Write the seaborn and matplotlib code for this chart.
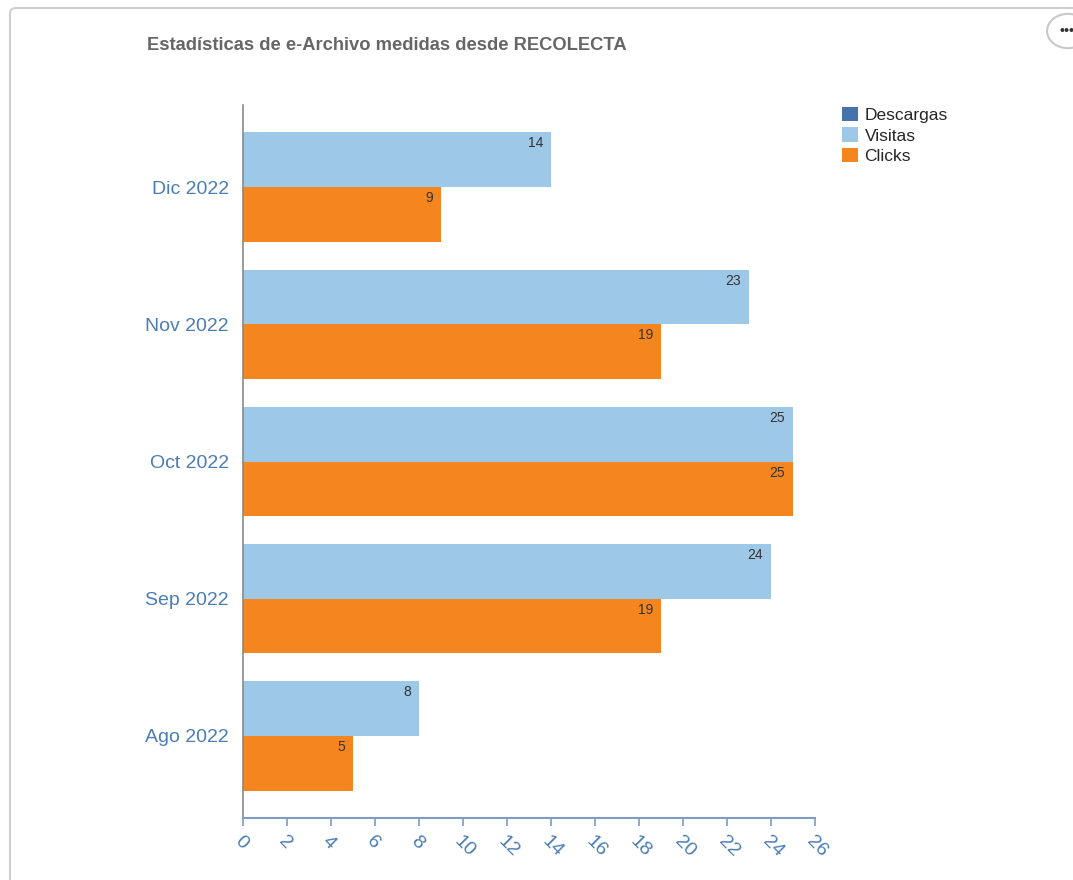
import matplotlib
matplotlib.use("Agg")
import matplotlib.pyplot as plt
import seaborn as sns
import pandas as pd
from matplotlib.patches import FancyBboxPatch, Patch, Circle

months = ["Dic 2022", "Nov 2022", "Oct 2022", "Sep 2022", "Ago 2022"]
visitas = [14, 23, 25, 24, 8]
clicks = [9, 19, 25, 19, 5]
series_names = ["Descargas", "Visitas", "Clicks"]
series_colors = ["#4673AB", "#9DC8E8", "#F5861F"]
xticks = list(range(0, 27, 2))
title = "Estadísticas de e-Archivo medidas desde RECOLECTA"

df = pd.DataFrame({
    "mes": months * 2,
    "serie": ["Visitas"] * len(months) + ["Clicks"] * len(months),
    "valor": visitas + clicks,
})

sns.set_theme(style="white")
plt.rcParams["font.family"] = ["Liberation Sans", "DejaVu Sans"]

fig = plt.figure(figsize=(10.73, 8.8), dpi=100)
# outer frame
frame = FancyBboxPatch((10 / 1073, -0.1), 1.2, 1 - 8 / 880 + 0.1, transform=fig.transFigure,
                       boxstyle="round,pad=0,rounding_size=0.006", fc="none",
                       ec="#cfcfcf", lw=1.5, zorder=-1)
fig.patches.append(frame)

ax = fig.add_axes([243 / 1073, 1 - 818 / 880, (815 - 243) / 1073, (818 - 105) / 880])
ax.set_facecolor("none")
ax.set_zorder(2)

sns.barplot(data=df, y="mes", x="valor", hue="serie", order=months,
            hue_order=["Visitas", "Clicks"], palette=series_colors[1:],
            orient="h", width=0.8, ax=ax, legend=False, saturation=1,
            linewidth=0, edgecolor="none")

for cont in ax.containers:
    for p in cont:
        ax.annotate(f"{int(round(p.get_width()))}", xy=(p.get_width(), p.get_y()),
                    xytext=(-8, -4), textcoords="offset pixels", ha="right", va="top",
                    fontsize=10, color="#333333")

ax.set_xlim(0, 26)
ax.set_ylim(4.6, -0.6)
ax.set_xticks(xticks)
ax.set_xticklabels([str(t) for t in xticks], rotation=-45, ha="left", va="top",
                   rotation_mode="anchor", fontsize=14, color="#4A7DB5")
ax.tick_params(axis="x", direction="out", length=6, width=1.2, color="#7E9CC0", pad=5,
               bottom=True)
ax.tick_params(axis="y", length=0, pad=10, labelsize=14, labelcolor="#4A7DB5")
for lab in ax.get_yticklabels():
    lab.set_color("#4A7DB5")
ax.set_xlabel("")
ax.set_ylabel("")
for s in ["top", "right"]:
    ax.spines[s].set_visible(False)
ax.spines["left"].set_color("#8a8a8a")
ax.spines["left"].set_linewidth(1.2)
ax.spines["bottom"].set_color("#7E9CC0")
ax.spines["bottom"].set_linewidth(1.5)
ax.grid(False)

fig.text(147 / 1073, 1 - 46 / 880, title, fontsize=13.2, color="#666666",
         fontweight="bold", ha="left", va="center")

handles = [Patch(facecolor=c, edgecolor="none", label=n)
           for n, c in zip(series_names, series_colors)]
fig.legend(handles=handles, loc="upper left", bbox_to_anchor=(835 / 1073, 1 - 100 / 880),
           frameon=False, fontsize=12.5, handlelength=0.9, handleheight=0.9,
           handletextpad=0.4, labelspacing=0.25, borderaxespad=0)

# menu button
btn = Circle((1068 / 1073, 1 - 31 / 880), 0.0195, transform=fig.transFigure,
             fc="white", ec="#c8c8c8", lw=1.5)
fig.patches.append(btn)
fig.text(1060 / 1073, 1 - 31 / 880, "•••", fontsize=10, color="#333333",
         fontweight="bold", ha="left", va="center")

fig.savefig("out.png", dpi=100)
